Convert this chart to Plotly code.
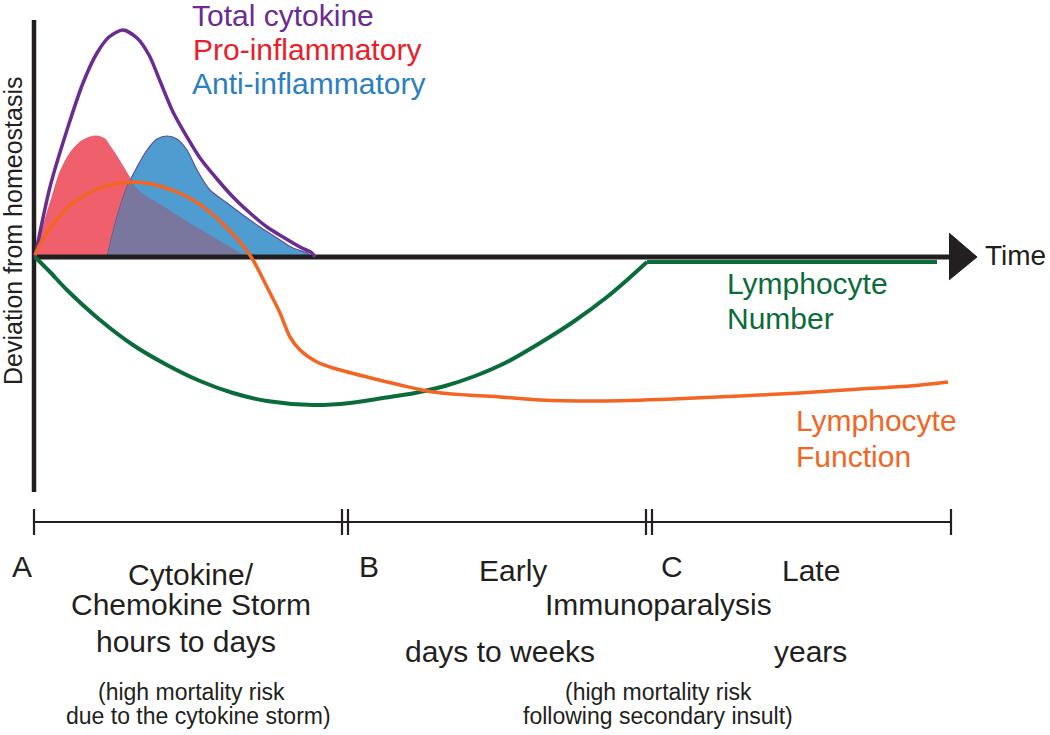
import plotly.graph_objects as go

FONT = "Liberation Sans, Arial, Helvetica, sans-serif"

# ---- data (time units along x, deviation from homeostasis along y) ----
total_t = [0, 15, 32, 48, 62, 74, 88, 102, 114, 125, 138, 152, 165, 182, 198, 215, 232, 248, 265, 277, 280]
total_d = [0, 70, 127, 174, 204, 220, 227, 219, 202, 176, 145, 120, 99, 78, 60, 44, 30, 20, 10, 4, 0]

pro_t = [0, 10, 17, 25, 35, 45, 55, 62, 70, 75, 83, 92, 100, 108, 125, 142, 158, 175, 192, 205, 210]
pro_d = [0, 37, 60, 85, 104, 115, 120, 121, 118, 111, 99, 84, 71, 63, 53, 42, 32, 22, 12, 4, 0]

anti_t = [72, 82, 92, 102, 112, 122, 132, 142, 152, 162, 175, 192, 208, 225, 242, 258, 272, 277]
anti_d = [0, 40, 70, 90, 107, 118, 121, 118, 107, 87, 67, 54, 42, 30, 19, 9, 4, 0]

overlap_t = [72, 82, 92, 96, 100, 108, 125, 142, 158, 175, 192, 205, 210]
overlap_d = [0, 40, 70, 78, 71, 63, 53, 42, 32, 22, 12, 4, 0]

func_t = [0, 10, 20, 32, 45, 60, 75, 95, 110, 125, 142, 158, 175, 190, 205, 218, 232, 245, 255, 265,
          282, 298, 332, 365, 398, 432, 465, 505, 565, 638, 705, 765, 825, 875, 913]
func_d = [2, 22, 35, 49, 59, 67, 72, 75, 74, 71, 65, 57, 45, 31, 15, -3, -30, -56, -80, -93,
          -105, -111, -120, -128, -135, -138, -140, -143, -144, -142, -139, -136, -132, -129, -125]

number_t = [0, 15, 32, 65, 98, 132, 165, 198, 232, 278, 315, 348, 380, 410, 440, 472, 505, 538, 572, 592, 612]
number_d = [0, -15, -33, -63, -88, -108, -124, -136, -144, -148, -146, -141, -136, -129, -119, -105, -86, -65, -40, -23, -5]
number_flat_t = [612, 902]
number_flat_d = [-5, -5]

# axes / timeline
yaxis_t = [-1, -1]
yaxis_d = [237, -235]
xaxis_t = [-1, 916]
xaxis_d = [0, 0]
arrow_t = [914, 942, 914]
arrow_d = [24, 0, -23]
timeline_t = [-1, 916]
timeline_d = [-265, -265]
tick_t = [-1, 307, 313, 611, 617, 916]
tick_lo, tick_hi = -252, -278

# labels
legend_labels = ["Total cytokine", "Pro-inflammatory", "Anti-inflammatory"]
legend_colors = ["#6A2C91", "#E8202A", "#2B7EC1"]
legend_t = [155, 156, 155]
legend_d = [242, 208, 174]

BIG, SMALL = 30, 23
phase_labels = [
    ("A", -13, -309, BIG), ("B", 334, -309, BIG), ("C", 637, -309, BIG),
    ("Cytokine/", 156, -317, BIG), ("Chemokine Storm", 156, -347, BIG), ("hours to days", 151, -384, BIG),
    ("(high mortality risk", 156, -435, SMALL), ("due to the cytokine storm)", 163, -459, SMALL),
    ("Early", 478, -313, BIG), ("Immunoparalysis", 623, -347, BIG), ("days to weeks", 465, -394, BIG),
    ("Late", 776, -313, BIG), ("years", 775, -394, BIG),
    ("(high mortality risk", 623, -435, SMALL), ("following secondary insult)", 623, -459, SMALL),
]

fig = go.Figure()

def fill_poly(t, d, fillcolor, linecolor, lw):
    fig.add_trace(go.Scatter(x=t, y=d, mode="lines", fill="toself", fillcolor=fillcolor,
                             line=dict(color=linecolor, width=lw, shape="spline", smoothing=0.8),
                             hoverinfo="skip", showlegend=False))

fill_poly(pro_t, pro_d, "#F0606C", "#D9505E", 0.8)
fill_poly(anti_t, anti_d, "#4F9CD1", "#58548C", 1.2)
fill_poly(overlap_t, overlap_d, "#7A779F", "rgba(0,0,0,0)", 0)

def line(t, d, color, w, shape="linear"):
    fig.add_trace(go.Scatter(x=t, y=d, mode="lines", line=dict(color=color, width=w, shape=shape, smoothing=0.8),
                             hoverinfo="skip", showlegend=False))

# axes
line(yaxis_t, yaxis_d, "#231F20", 4.5)
line(xaxis_t, xaxis_d, "#231F20", 5)
fig.add_trace(go.Scatter(x=arrow_t, y=arrow_d, mode="lines", fill="toself", fillcolor="#231F20",
                         line=dict(color="#231F20", width=1), hoverinfo="skip", showlegend=False))

# curves
line(total_t, total_d, "#6A2C91", 3.5, "spline")
line(number_t, number_d, "#0B6B3A", 4, "spline")
line(number_flat_t, number_flat_d, "#0B6B3A", 4)
line(func_t, func_d, "#F26522", 3.5, "spline")

# timeline
line(timeline_t, timeline_d, "#231F20", 2.2)
tx, ty = [], []
for t in tick_t:
    tx += [t, t, None]
    ty += [tick_lo, tick_hi, None]
fig.add_trace(go.Scatter(x=tx, y=ty, mode="lines", line=dict(color="#231F20", width=2.2),
                         hoverinfo="skip", showlegend=False))

ann = []
for lab, col, t, d in zip(legend_labels, legend_colors, legend_t, legend_d):
    ann.append(dict(x=t, y=d, text=lab, showarrow=False, xanchor="left", yanchor="middle",
                    font=dict(family=FONT, size=BIG, color=col)))
for lab, t, d, s in phase_labels:
    ann.append(dict(x=t, y=d, text=lab, showarrow=False, xanchor="center", yanchor="middle",
                    font=dict(family=FONT, size=s, color="#231F20")))
ann.append(dict(x=948, y=2, text="Time", showarrow=False, xanchor="left", yanchor="middle",
                font=dict(family=FONT, size=28, color="#231F20")))
ann.append(dict(x=690, y=-26, text="Lymphocyte", showarrow=False, xanchor="left", yanchor="middle",
                font=dict(family=FONT, size=BIG, color="#0B6B3A")))
ann.append(dict(x=690, y=-61, text="Number", showarrow=False, xanchor="left", yanchor="middle",
                font=dict(family=FONT, size=BIG, color="#0B6B3A")))
ann.append(dict(x=759, y=-163, text="Lymphocyte", showarrow=False, xanchor="left", yanchor="middle",
                font=dict(family=FONT, size=BIG, color="#F26522")))
ann.append(dict(x=759, y=-199, text="Function", showarrow=False, xanchor="left", yanchor="middle",
                font=dict(family=FONT, size=BIG, color="#F26522")))
ann.append(dict(x=-22, y=26, text="Deviation from homeostasis", showarrow=False, textangle=-90,
                xanchor="center", yanchor="middle", font=dict(family=FONT, size=25, color="#231F20")))

fig.update_layout(
    width=1050, height=735, margin=dict(l=0, r=0, t=0, b=0),
    paper_bgcolor="white", plot_bgcolor="white", showlegend=False,
    xaxis=dict(range=[-35, 1015], visible=False, fixedrange=True),
    yaxis=dict(range=[-478, 257], visible=False, fixedrange=True),
    annotations=ann,
)

fig.write_html("out.html", config={"displayModeBar": False},
               post_script="document.body.style.margin='0';")
